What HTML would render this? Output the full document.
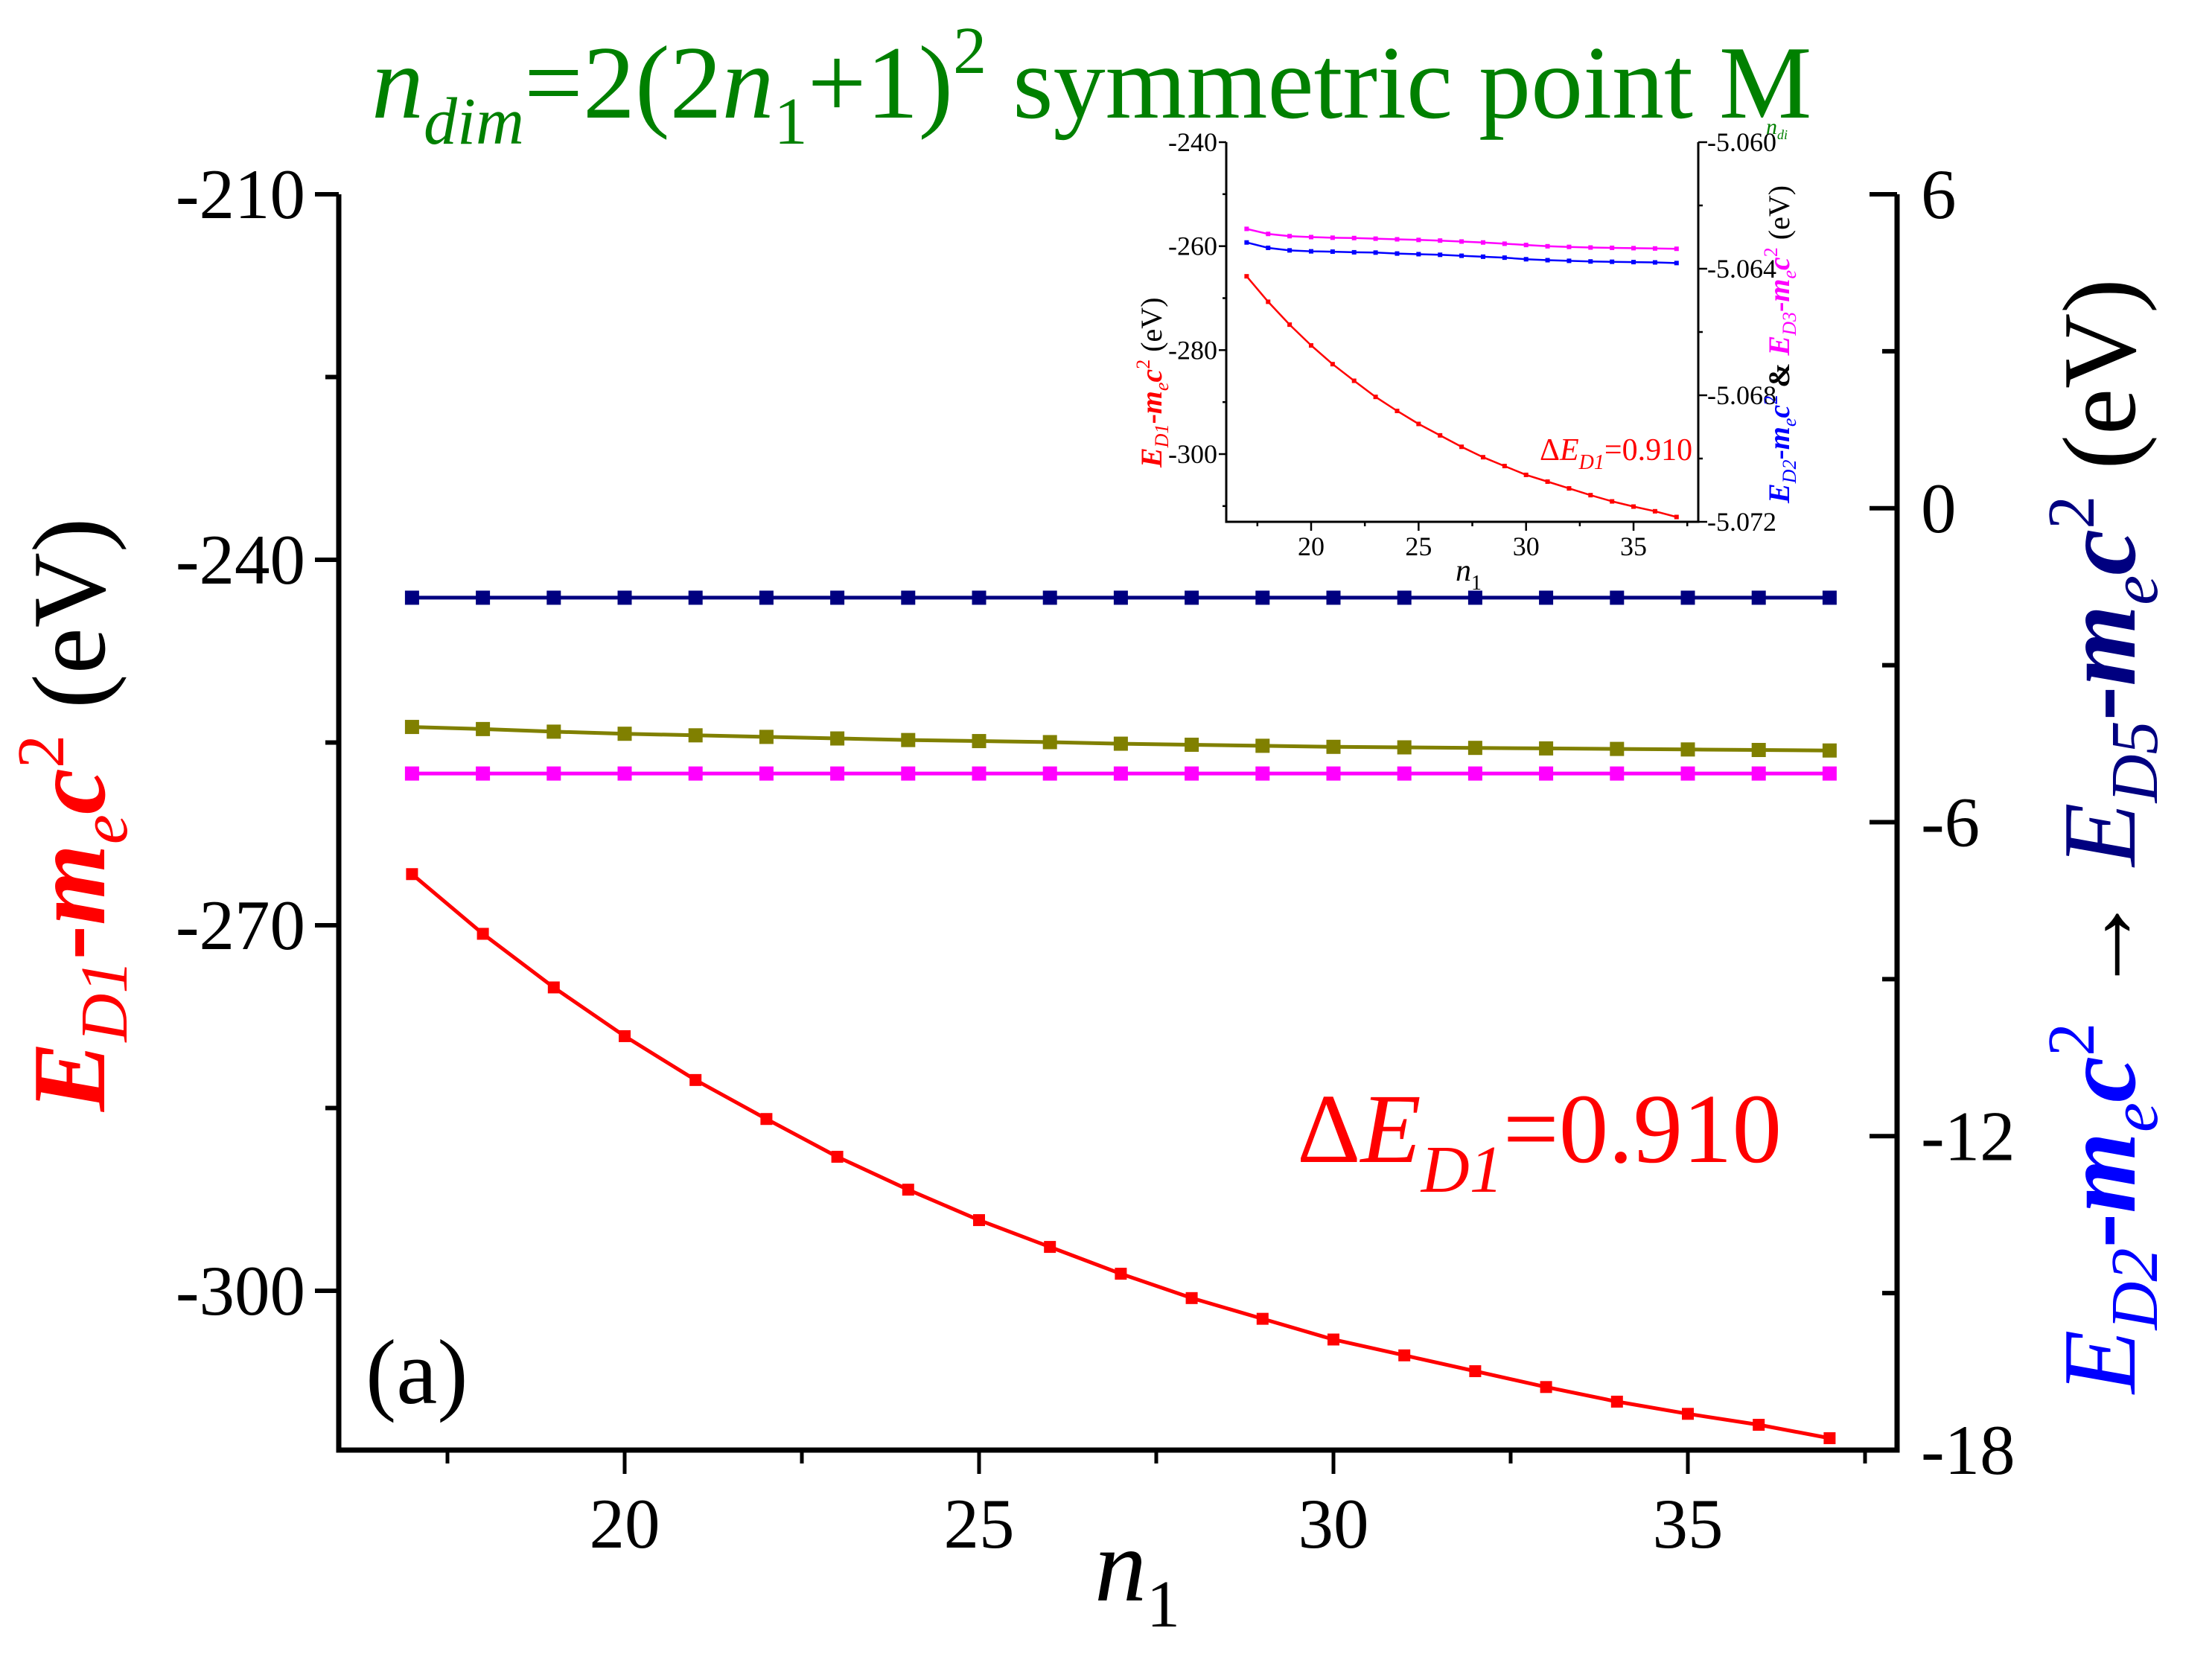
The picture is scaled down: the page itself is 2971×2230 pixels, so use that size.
<!DOCTYPE html>
<html><head><meta charset="utf-8"><style>
html,body{margin:0;padding:0;background:#fff;}
svg{display:block;font-family:"Liberation Serif",serif;}
</style></head><body>
<svg id="chart" width="2971" height="2230" viewBox="0 0 2971 2230" xmlns="http://www.w3.org/2000/svg">
<rect width="2971" height="2230" fill="#fff"/>
<text x="499" y="158" font-size="140" fill="#008000"><tspan font-style="italic">n</tspan><tspan font-style="italic" font-size="90" dy="35">dim</tspan><tspan dy="-35">=2(2</tspan><tspan font-style="italic">n</tspan><tspan font-size="90" dy="35">1</tspan><tspan dy="-35">+1)</tspan><tspan font-size="90" dy="-60">2</tspan><tspan dy="60"> symmetric point M</tspan></text>
<g id="main"></g>
<g id="inset"></g>
<text transform="translate(140,1493) rotate(-90)" font-size="140" fill="#ff0000" font-weight="bold"><tspan font-style="italic">E</tspan><tspan font-size="90" dy="30" font-style="italic" font-weight="normal">D1</tspan><tspan dy="-30">-</tspan><tspan font-style="italic">m</tspan><tspan font-size="90" dy="30" font-style="italic" font-weight="normal">e</tspan><tspan dy="-30" font-style="italic">c</tspan><tspan font-size="90" dy="-55" font-weight="normal">2</tspan><tspan dy="55" fill="#000" font-weight="normal"> (eV)</tspan></text>
<text transform="translate(2867,1872) rotate(-90)" font-size="140" font-weight="bold"><tspan fill="#0000ff" font-style="italic" font-weight="normal">E</tspan><tspan fill="#0000ff" font-size="90" dy="30" font-style="italic" font-weight="normal">D2</tspan><tspan fill="#0000ff" dy="-30">-</tspan><tspan fill="#0000ff" font-style="italic">m</tspan><tspan fill="#0000ff" font-size="90" dy="30" font-style="italic" font-weight="normal">e</tspan><tspan fill="#0000ff" dy="-30" font-style="italic">c</tspan><tspan fill="#0000ff" font-size="90" dy="-55" font-weight="normal">2</tspan><tspan dy="55" fill="#000" font-weight="normal"> → </tspan><tspan fill="#000080" font-style="italic" font-weight="normal">E</tspan><tspan fill="#000080" font-size="90" dy="30" font-style="italic" font-weight="normal">D5</tspan><tspan fill="#000080" dy="-30">-</tspan><tspan fill="#000080" font-style="italic">m</tspan><tspan fill="#000080" font-size="90" dy="30" font-style="italic" font-weight="normal">e</tspan><tspan fill="#000080" dy="-30" font-style="italic">c</tspan><tspan fill="#000080" font-size="90" dy="-55" font-weight="normal">2</tspan><tspan dy="55" fill="#000" font-weight="normal"> (eV)</tspan></text>
<text x="1470" y="2150" font-size="140" font-style="italic">n<tspan font-size="90" dy="35" font-style="normal">1</tspan></text>
<text x="491" y="1885" font-size="124">(a)</text>
<text x="1742" y="1561" font-size="133" fill="#ff0000">Δ<tspan font-style="italic">E</tspan><tspan font-style="italic" font-size="90" dy="40">D1</tspan><tspan dy="-40">=0.910</tspan></text>
<script>
const nValues=[17,18,19,20,21,22,23,24,25,26,27,28,29,30,31,32,33,34,35,36,37];
const redD1=[-265.8,-270.7,-275.1,-279.1,-282.7,-285.9,-289.0,-291.7,-294.2,-296.4,-298.6,-300.6,-302.3,-304.0,-305.3,-306.6,-307.9,-309.1,-310.1,-311.0,-312.1];
const navyD5=[-1.71,-1.71,-1.71,-1.71,-1.71,-1.71,-1.71,-1.71,-1.71,-1.71,-1.71,-1.71,-1.71,-1.71,-1.71,-1.71,-1.71,-1.71,-1.71,-1.71,-1.71];
const oliveD4=[-4.18,-4.22,-4.27,-4.31,-4.34,-4.37,-4.40,-4.43,-4.45,-4.47,-4.50,-4.52,-4.54,-4.56,-4.57,-4.58,-4.59,-4.60,-4.61,-4.62,-4.63];
const magentaMain=[-5.07,-5.07,-5.07,-5.07,-5.07,-5.07,-5.07,-5.07,-5.07,-5.07,-5.07,-5.07,-5.07,-5.07,-5.07,-5.07,-5.07,-5.07,-5.07,-5.07,-5.07];
const insetD3=[-5.06274,-5.06290,-5.06297,-5.06300,-5.06302,-5.06303,-5.06305,-5.06307,-5.06309,-5.06311,-5.06314,-5.06317,-5.06321,-5.06325,-5.06329,-5.06331,-5.06333,-5.06334,-5.06335,-5.06336,-5.06337];
const insetD2=[-5.06317,-5.06334,-5.06342,-5.06345,-5.06346,-5.06348,-5.06349,-5.06352,-5.06354,-5.06356,-5.06359,-5.06362,-5.06365,-5.06370,-5.06373,-5.06375,-5.06377,-5.06378,-5.06379,-5.06380,-5.06382];
const xTicks=[20,25,30,35];
const leftTicks=[-210,-240,-270,-300];
const rightTicks=[6,0,-6,-12,-18];
const insetLeftTicks=[-240,-260,-280,-300];
const insetRightTicks=["-5.060","-5.064","-5.068","-5.072"];

const NS="http://www.w3.org/2000/svg";
function mk(parent,tag,attrs){const e=document.createElementNS(NS,tag);for(const k in attrs)e.setAttribute(k,attrs[k]);parent.appendChild(e);return e;}

const main=document.getElementById('main');
const X=v=>839+(v-20)*95.2;
const YL=v=>261+(-210-v)*(1473/90);
const YR=v=>261+(6-v)*(1687/24);
const L=455,R=2548,T=261,B=1948;
function series(g,xs,ys,xf,yf,color,sw,ms,name){
  const pts=xs.map((x,i)=>xf(x).toFixed(1)+','+yf(ys[i]).toFixed(1)).join(' ');
  const pl=mk(g,'polyline',{points:pts,fill:'none',stroke:color,'stroke-width':sw});
  
  
  xs.forEach((x,i)=>{const r=mk(g,'rect',{x:xf(x)-ms/2,y:yf(ys[i])-ms/2,width:ms,height:ms,fill:color});
    
    });
}
series(main,nValues,navyD5,X,YR,'#000080',5,19,'d5-series');
series(main,nValues,oliveD4,X,YR,'#808000',5,19,'d4-series');
series(main,nValues,magentaMain,X,YR,'#ff00ff',5,19,'d3-series');
series(main,nValues,redD1,X,YL,'#ff0000',5,16,'d1-series');
const frame=mk(main,'path',{d:`M${L},${T}V${B}H${R}V${T}`,fill:'none',stroke:'#000','stroke-width':7});


for(let v=-210;v>=-300;v-=15){const maj=(v%30===0);const t=mk(main,'line',{x1:L-(maj?32:18),x2:L,y1:YL(v),y2:YL(v),stroke:'#000','stroke-width':6});
  
  }
leftTicks.forEach(v=>{const t=mk(main,'text',{x:L-45,y:YL(v)+32,'font-size':95,'text-anchor':'end'});t.textContent=String(v);
  
  });
for(let v=6;v>=-18;v-=3){const maj=(v%6===0);const t=mk(main,'line',{x1:R-(maj?37:20),x2:R,y1:YR(v),y2:YR(v),stroke:'#000','stroke-width':6});
  
  }
rightTicks.forEach(v=>{const t=mk(main,'text',{x:R+32,y:YR(v)+32,'font-size':95});t.textContent=String(v);
  
  });
for(let v=17.5;v<=37.5;v+=2.5){const maj=(v%5===0);const t=mk(main,'line',{x1:X(v),x2:X(v),y1:B,y2:B+(maj?32:18),stroke:'#000','stroke-width':5});
  
  }
xTicks.forEach(v=>{const t=mk(main,'text',{x:X(v),y:2079,'font-size':95,'text-anchor':'middle'});t.textContent=String(v);
  
  });

// inset
const inset=document.getElementById('inset');
const iX=v=>1761+(v-20)*28.87;
const iYL=v=>191+(-240-v)*(419/60);
const iYR=v=>191+(-5.060-v)*(510/0.012);
const iL=1647,iR=2281,iT=191,iB=701;
mk(inset,'rect',{x:iL,y:iT,width:iR-iL,height:iB-iT,fill:'#fff'});
series(inset,nValues,insetD3,iX,iYR,'#ff00ff',2.5,6,'inset-d3-series');
series(inset,nValues,insetD2,iX,iYR,'#0000ff',2.5,6,'inset-d2-series');
series(inset,nValues,redD1,iX,iYL,'#ff0000',2.5,6,'inset-d1-series');
const iframe=mk(inset,'path',{d:`M${iL},${iT}V${iB}H${iR}V${iT}`,fill:'none',stroke:'#000','stroke-width':3});


for(let v=-240;v>=-310;v-=10){const maj=(v%20===0);const t=mk(inset,'line',{x1:iL-(maj?10:5),x2:iL,y1:iYL(v),y2:iYL(v),stroke:'#000','stroke-width':2.5});
  
  }
insetLeftTicks.forEach(v=>{const t=mk(inset,'text',{x:iL-12,y:iYL(v)+12,'font-size':36,'text-anchor':'end'});t.textContent=String(v);
  
  });
for(let i=0;i<=6;i++){const v=-5.060-i*0.002;const maj=(i%2===0);const t=mk(inset,'line',{x1:iR,x2:iR+(maj?12:6),y1:iYR(v),y2:iYR(v),stroke:'#000','stroke-width':2.5});
  
  }
insetRightTicks.forEach(s=>{const t=mk(inset,'text',{x:iR+12,y:iYR(parseFloat(s))+12,'font-size':36});t.textContent=s;
  
  });
for(let v=17.5;v<=37.5;v+=2.5){const maj=(v%5===0);const t=mk(inset,'line',{x1:iX(v),x2:iX(v),y1:iB,y2:iB+(maj?12:6),stroke:'#000','stroke-width':2.5});
  
  }
xTicks.forEach(v=>{const t=mk(inset,'text',{x:iX(v),y:746,'font-size':36,'text-anchor':'middle'});t.textContent=String(v);
  
  });
</script>
<text x="1955" y="780" font-size="42" font-style="italic">n<tspan font-size="28" dy="12" font-style="normal">1</tspan></text>
<text transform="translate(1560,628) rotate(-90)" font-size="40" fill="#ff0000" font-weight="bold"><tspan font-style="italic">E</tspan><tspan font-size="26" dy="9" font-style="italic" font-weight="normal">D1</tspan><tspan dy="-9">-</tspan><tspan font-style="italic">m</tspan><tspan font-size="26" dy="9" font-style="italic" font-weight="normal">e</tspan><tspan dy="-9" font-style="italic">c</tspan><tspan font-size="26" dy="-16" font-weight="normal">2</tspan><tspan dy="16" fill="#000" font-weight="normal"> (eV)</tspan></text>
<text transform="translate(2403,676) rotate(-90)" font-size="40" font-weight="bold"><tspan fill="#0000ff" font-style="italic">E</tspan><tspan fill="#0000ff" font-size="26" dy="9" font-style="italic" font-weight="normal">D2</tspan><tspan fill="#0000ff" dy="-9">-</tspan><tspan fill="#0000ff" font-style="italic">m</tspan><tspan fill="#0000ff" font-size="26" dy="9" font-style="italic" font-weight="normal">e</tspan><tspan fill="#0000ff" dy="-9" font-style="italic">c</tspan><tspan fill="#0000ff" font-size="26" dy="-16" font-weight="normal">2</tspan><tspan dy="16" fill="#000"> &amp; </tspan><tspan fill="#ff00ff" font-style="italic">E</tspan><tspan fill="#ff00ff" font-size="26" dy="9" font-style="italic" font-weight="normal">D3</tspan><tspan fill="#ff00ff" dy="-9">-</tspan><tspan fill="#ff00ff" font-style="italic">m</tspan><tspan fill="#ff00ff" font-size="26" dy="9" font-style="italic" font-weight="normal">e</tspan><tspan fill="#ff00ff" dy="-9" font-style="italic">c</tspan><tspan fill="#ff00ff" font-size="26" dy="-16" font-weight="normal">2</tspan><tspan dy="16" fill="#000" font-weight="normal"> (eV)</tspan></text>
<text x="2068" y="618" font-size="42" fill="#ff0000">Δ<tspan font-style="italic">E</tspan><tspan font-style="italic" font-size="28" dy="12">D1</tspan><tspan dy="-12">=0.910</tspan></text>
<text x="2372" y="180" font-size="30" fill="#008000" font-style="italic">n<tspan font-size="18" dy="7">di</tspan></text>
</svg>
</body></html>
